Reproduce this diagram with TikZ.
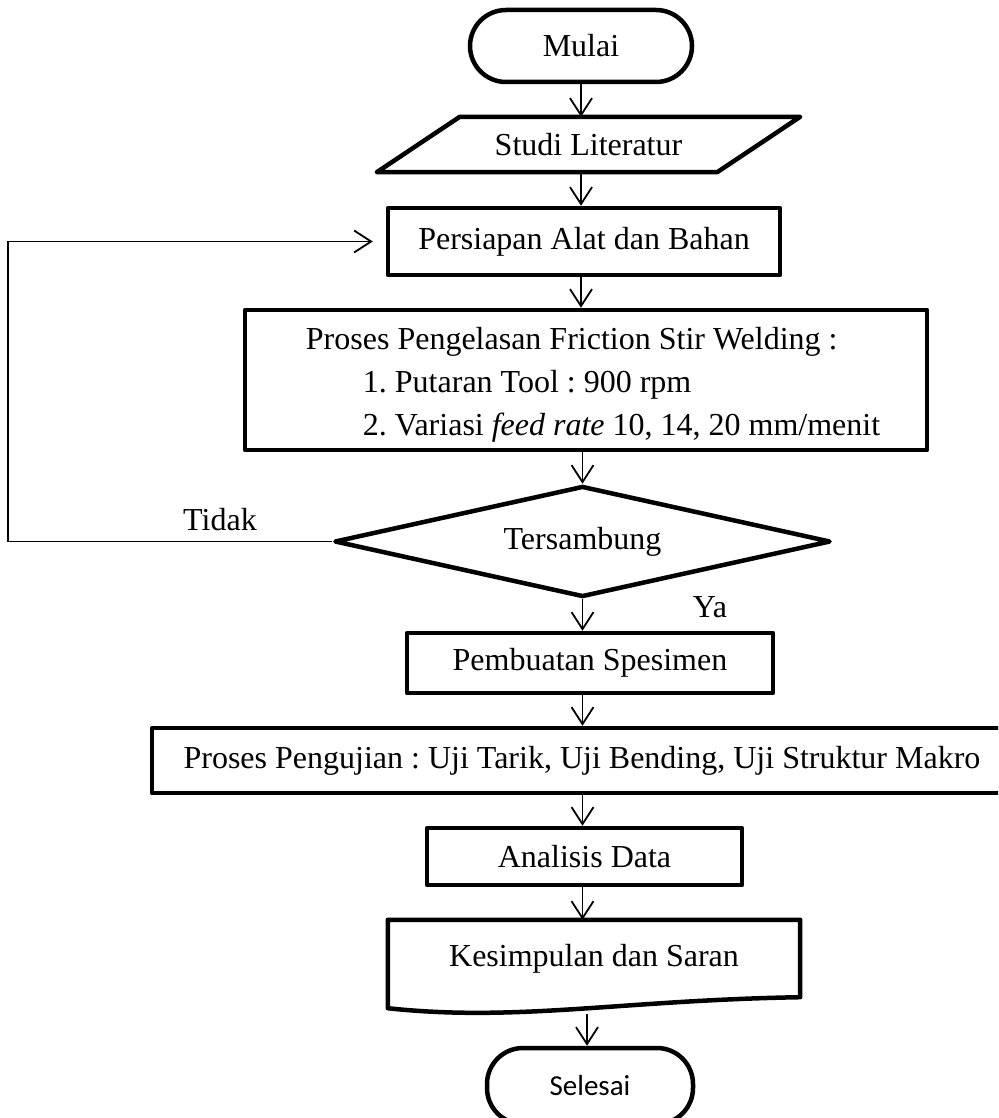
\documentclass[tikz,border=0pt]{standalone}
\usepackage{fontspec}
\setmainfont{Liberation Serif}
\newfontfamily\calibrifont{Carlito}
\usepackage{tikz}
\usetikzlibrary{calc,positioning,shapes.geometric,arrows.meta}
\frenchspacing

\begin{document}
\begin{tikzpicture}[x=1pt, y=-1pt]

    % Looks of the boxes, the labels and the arrows
    \tikzset{
        base/.style={draw, line width=4.5pt, line join=round, font=\fontsize{32}{38}\selectfont},
        box/.style={base, rectangle},
        terminal/.style={box, rounded corners=36pt},
        plain/.style={font=\fontsize{32}{38}\selectfont, inner sep=0pt},
        flow/.style={line width=1.8pt, -{Straight Barb[length=17pt, width=22pt, line width=1.8pt]}},
    }

    % Page keeps the size of the chart
    \useasboundingbox (0, 0) rectangle (998, 1118);
    \clip (0, 0) rectangle (998, 1118);

    % Steps of the chart, top to bottom
    \begin{scope}
        \node (mulai) at (581, 46) [terminal, minimum width=222pt, minimum height=72pt] {Mulai};
        \node (studi) at (588.5, 144.5) [plain, minimum width=340pt, minimum height=55pt] {Studi Literatur};
        \node (persiapan) at (584, 241.5) [box, minimum width=392pt, minimum height=67pt] {Persiapan Alat dan Bahan};
        \node (las) at (586, 380) [box, minimum width=682pt, minimum height=140pt] {};
        \node (lastulis) [plain, font=\fontsize{32}{43}\selectfont, align=left, right=63pt of las.west, yshift=-5pt]
            {Proses Pengelasan Friction Stir Welding :\\
             \hspace*{57pt}1. Putaran Tool : 900 rpm\\
             \hspace*{57pt}2. Variasi \textit{feed rate} 10, 14, 20 mm/menit};
        \node (cek) at (582.5, 541.5) [base, diamond, aspect=4.47, minimum width=496pt, minimum height=111pt, inner sep=0pt] {Tersambung};
        \node (pembuatan) at (590, 663) [box, minimum width=366pt, minimum height=60pt] {Pembuatan Spesimen};
        \node (uji) at (582, 760.5) [box, minimum width=860pt, minimum height=65pt] {Proses Pengujian : Uji Tarik, Uji Bending, Uji Struktur Makro};
        \node (analisis) at (584.5, 856.5) [box, minimum width=315pt, minimum height=57pt] {Analisis Data};
        \node (simpul) at (594, 958.5) [plain, minimum width=412pt, minimum height=77pt] {Kesimpulan dan Saran};
        \node (selesai) at (590, 1086) [terminal, minimum width=206pt, minimum height=76pt, font=\calibrifont\fontsize{29}{34}\selectfont] {Selesai};
    \end{scope}

    % Input shape and document shape
    \begin{scope}[line width=4.5pt, line join=round]
        \draw ([xshift=-41.5pt]studi.south west) -- ([xshift=41.5pt]studi.north west)
            -- ([xshift=41.5pt]studi.north east) -- ([xshift=-41.5pt]studi.south east) -- cycle;
        \draw (simpul.south east) -- (simpul.north east) -- (simpul.north west) -- ([yshift=-11pt]simpul.south west)
            .. controls ([xshift=130pt, yshift=-25pt]simpul.south west) and ([xshift=-180pt, yshift=-3pt]simpul.south east) .. (simpul.south east)
            -- cycle;
    \end{scope}

    % Answers of the decision
    \node (tidak) at (220, 520) [plain] {Tidak};
    \node (ya) at (710, 607) [plain] {Ya};

    % Arrows between the steps
    \begin{scope}
        \draw[flow] (mulai.south) -- (mulai.south |- studi.north);
        \draw[flow] (mulai.south |- studi.south) -- (mulai.south |- persiapan.north);
        \draw[flow] (mulai.south |- persiapan.south) -- (mulai.south |- las.north);
        \draw[flow] (cek.north |- las.south) -- (cek.north);
        \draw[flow] (cek.south) -- (cek.south |- pembuatan.north);
        \draw[flow] (cek.south |- pembuatan.south) -- (cek.south |- uji.north);
        \draw[flow] (cek.south |- uji.south) -- (cek.south |- analisis.north);
        \draw[flow] (cek.south |- analisis.south) -- (cek.south |- simpul.north);
        \coordinate (simpulbawah) at (587, 1014);
        \draw[flow] (simpulbawah) -- (simpulbawah |- selesai.north);

        % back to the preparation when the joint fails
        \path (cek.west) ++(-324, 0) coordinate (balik);
        \draw[flow] (cek.west) -- (balik) |- ([xshift=-13pt]persiapan.west);
    \end{scope}

\end{tikzpicture}
\end{document}
